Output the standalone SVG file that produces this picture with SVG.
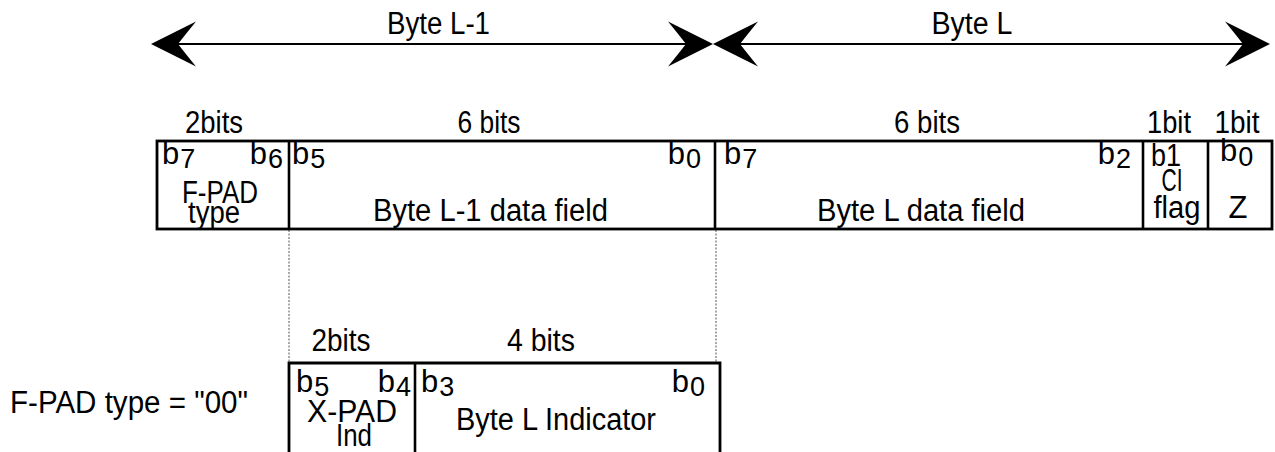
<svg xmlns="http://www.w3.org/2000/svg" width="1275" height="452" viewBox="0 0 1275 452">
<style>
text{font-family:"Liberation Sans",Arial,sans-serif;font-size:31px;fill:#000}
.m{text-anchor:middle}
.e{text-anchor:end}
.sub{font-size:27px}
.box{fill:none;stroke:#000;stroke-width:2.8}
.div{stroke:#000;stroke-width:2.6}
.dot{stroke:#555;stroke-width:1;stroke-dasharray:2 1.5}
.arr{stroke:#000;stroke-width:2.2;fill:none}
</style>
<defs>
<marker id="ah" viewBox="-46 -24 48 48" markerWidth="48" markerHeight="48" refX="-27" refY="0" markerUnits="userSpaceOnUse" orient="auto-start-reverse">
<path d="M0,0 L-45,-22.5 Q-34,-9 -27,0 Q-34,9 -45,22.5 Z" fill="#000"/>
</marker>
</defs>
<g id="connectors">
<line class="arr" x1="178" y1="44" x2="686" y2="44" marker-start="url(#ah)" marker-end="url(#ah)"/>
<line class="arr" x1="740" y1="44" x2="1243" y2="44" marker-start="url(#ah)" marker-end="url(#ah)"/>
<line class="dot" x1="289" y1="230" x2="289" y2="363"/>
<line class="dot" x1="716" y1="230" x2="716" y2="363"/>
</g>
<g id="arrow-labels">
<text class="m" x="438.5" y="34" textLength="103" lengthAdjust="spacingAndGlyphs">Byte L-1</text>
<text class="m" x="972" y="34" textLength="81" lengthAdjust="spacingAndGlyphs">Byte L</text>
</g>
<g id="byte-frame">
<rect class="box" x="157" y="141" width="1115" height="88"/>
<line class="div" x1="289" y1="141" x2="289" y2="229"/>
<line class="div" x1="715" y1="141" x2="715" y2="229"/>
<line class="div" x1="1143" y1="141" x2="1143" y2="229"/>
<line class="div" x1="1208" y1="141" x2="1208" y2="229"/>
</g>
<g id="fpad-type">
<text class="m" x="214" y="133" textLength="58" lengthAdjust="spacingAndGlyphs">2bits</text>
<text x="162" y="164">b<tspan class="sub" dx="1" dy="4">7</tspan></text>
<text class="e" x="283" y="164">b<tspan class="sub" dx="1" dy="4">6</tspan></text>
<text class="m" x="220" y="203" textLength="76" lengthAdjust="spacingAndGlyphs">F-PAD</text>
<text class="m" x="214" y="223" textLength="52" lengthAdjust="spacingAndGlyphs">type</text>
</g>
<g id="byte-l1-data">
<text class="m" x="489" y="133" textLength="63" lengthAdjust="spacingAndGlyphs">6 bits</text>
<text x="292" y="164">b<tspan class="sub" dx="1" dy="4">5</tspan></text>
<text class="e" x="701" y="164">b<tspan class="sub" dx="1" dy="4">0</tspan></text>
<text class="m" x="490.5" y="221" textLength="235" lengthAdjust="spacingAndGlyphs">Byte L-1 data field</text>
</g>
<g id="byte-l-data">
<text class="m" x="927" y="133" textLength="66" lengthAdjust="spacingAndGlyphs">6 bits</text>
<text x="724" y="164">b<tspan class="sub" dx="1" dy="4">7</tspan></text>
<text class="e" x="1131" y="164">b<tspan class="sub" dx="1" dy="4">2</tspan></text>
<text class="m" x="921" y="221" textLength="208" lengthAdjust="spacingAndGlyphs">Byte L data field</text>
</g>
<g id="ci-flag">
<text class="m" x="1169" y="133" textLength="44" lengthAdjust="spacingAndGlyphs">1bit</text>
<text class="m" x="1166" y="166" textLength="30" lengthAdjust="spacingAndGlyphs">b1</text>
<text class="m" x="1172" y="191" textLength="21" lengthAdjust="spacingAndGlyphs">CI</text>
<text class="m" x="1177" y="218" textLength="47" lengthAdjust="spacingAndGlyphs">flag</text>
</g>
<g id="z-bit">
<text class="m" x="1237" y="133" textLength="45" lengthAdjust="spacingAndGlyphs">1bit</text>
<text x="1220" y="161">b<tspan class="sub" dx="1" dy="5">0</tspan></text>
<text class="m" x="1238" y="218">Z</text>
</g>
<g id="fpad00-label">
<text x="10" y="413" textLength="238" lengthAdjust="spacingAndGlyphs">F-PAD type = "00"</text>
</g>
<g id="sub-frame">
<path class="box" d="M289,452 V363 H720 V452"/>
<line class="div" x1="415" y1="363" x2="415" y2="452"/>
</g>
<g id="xpad-ind">
<text class="m" x="341" y="351" textLength="59" lengthAdjust="spacingAndGlyphs">2bits</text>
<text x="296" y="392">b<tspan class="sub" dx="1" dy="4">5</tspan></text>
<text class="e" x="411" y="392">b<tspan class="sub" dx="1" dy="4">4</tspan></text>
<text class="m" x="352" y="422" textLength="90" lengthAdjust="spacingAndGlyphs">X-PAD</text>
<text class="m" x="354" y="446" textLength="36" lengthAdjust="spacingAndGlyphs">Ind</text>
</g>
<g id="byte-l-indicator">
<text class="m" x="541" y="351" textLength="68" lengthAdjust="spacingAndGlyphs">4 bits</text>
<text x="421" y="392">b<tspan class="sub" dx="1" dy="4">3</tspan></text>
<text class="e" x="705" y="392">b<tspan class="sub" dx="1" dy="4">0</tspan></text>
<text class="m" x="556" y="430" textLength="200" lengthAdjust="spacingAndGlyphs">Byte L Indicator</text>
</g>
</svg>
